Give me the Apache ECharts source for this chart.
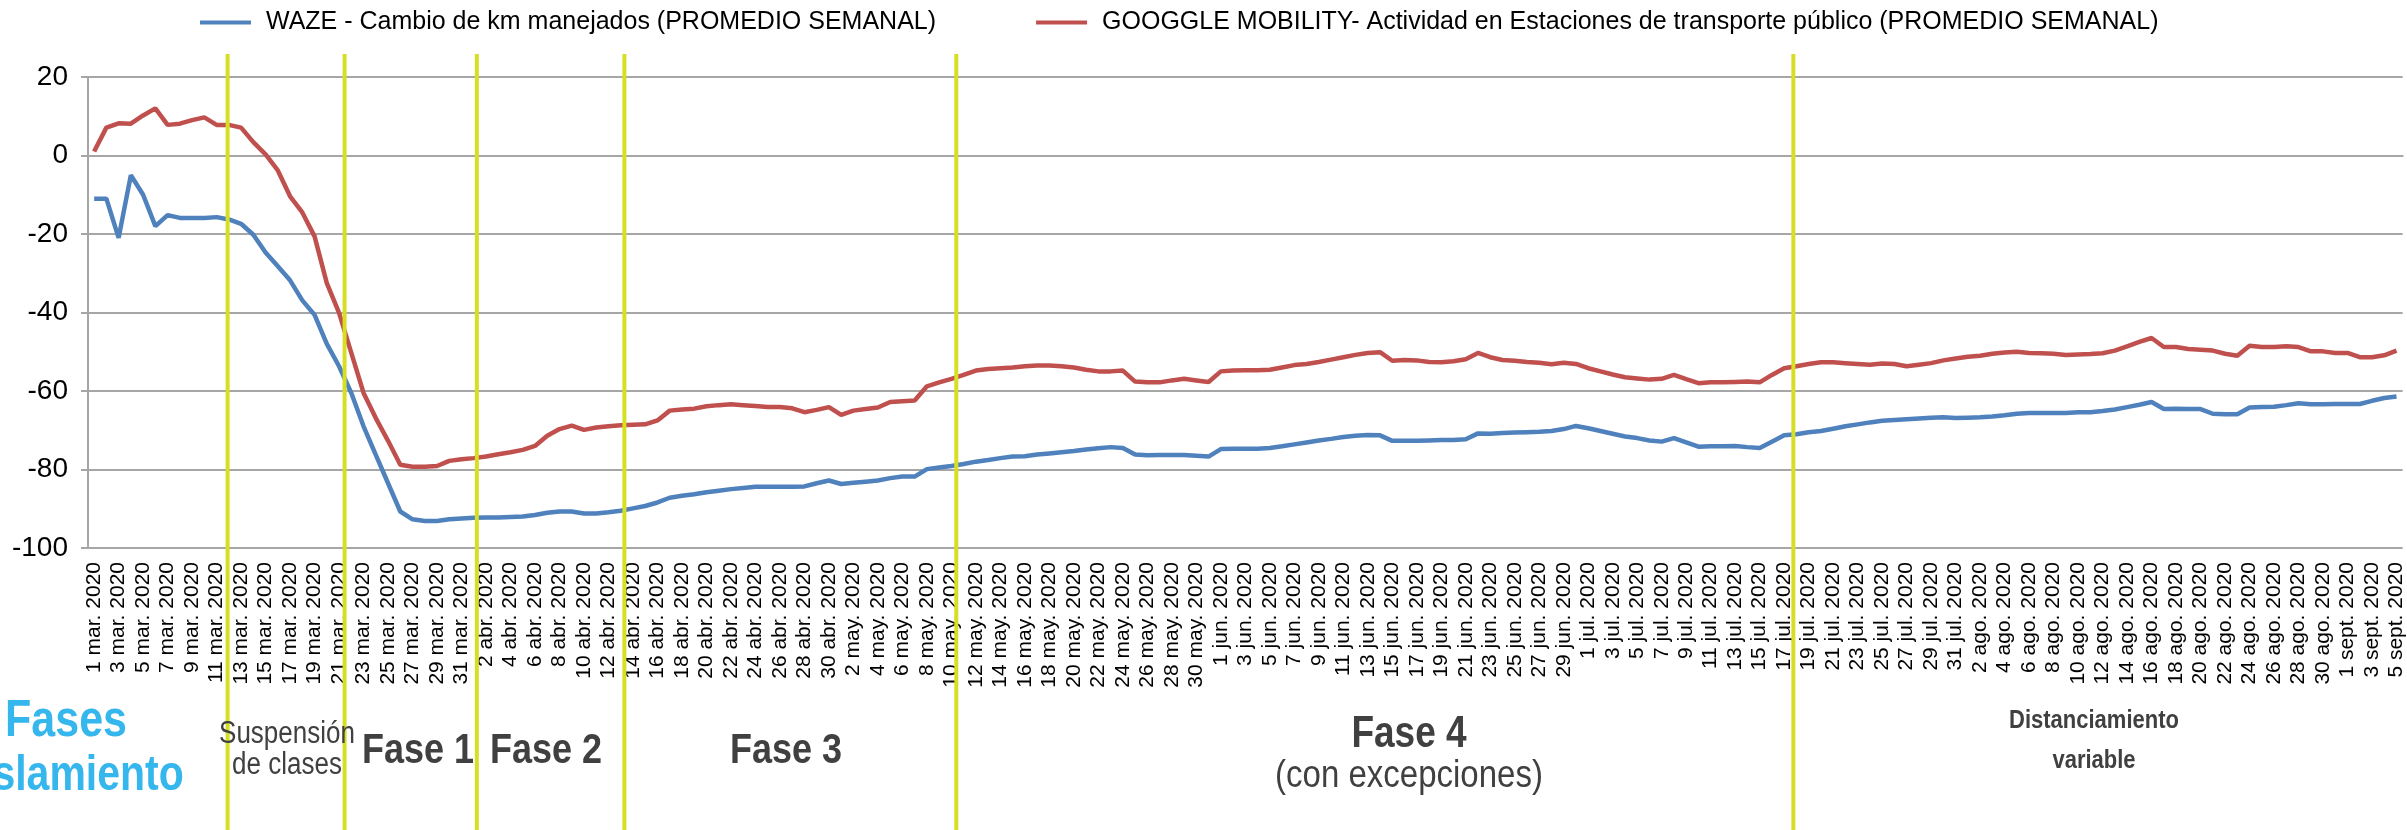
<!DOCTYPE html>
<html>
<head>
<meta charset="utf-8">
<script src="https://cdn.jsdelivr.net/npm/echarts@6/dist/echarts.min.js"></script>
<style>
html,body{margin:0;padding:0;background:#fff;}
#main{width:2407px;height:830px;}
</style>
</head>
<body>
<div id="main"></div>
<script>
// ---- Data ----
const monthNames = ['mar.', 'abr.', 'may.', 'jun.', 'jul.', 'ago.', 'sept.'];
const monthDays = [31, 30, 31, 30, 31, 31, 5];
const year = '2020';
const categories = [];
monthNames.forEach((m, i) => { for (let d = 1; d <= monthDays[i]; d++) categories.push(d + ' ' + m + ' ' + year); });

const wazeName = 'WAZE - Cambio de km manejados (PROMEDIO SEMANAL)';
const googleName = 'GOOGGLE MOBILITY- Actividad en Estaciones de transporte público (PROMEDIO SEMANAL)';

const wazeValues = [
-11,-11,-21,-5,-10,-18,-15.2,-15.9,-15.9,-15.9,
-15.7,-16.3,-17.4,-20.2,-24.7,-28.2,-31.8,-36.9,-40.6,-48.0,
-53.7,-60.5,-69.0,-76.3,-83.5,-90.7,-92.7,-93.1,-93.1,-92.7,
-92.5,-92.3,-92.2,-92.2,-92.1,-92.0,-91.6,-91.0,-90.7,-90.7,
-91.2,-91.2,-90.9,-90.5,-89.9,-89.3,-88.4,-87.2,-86.7,-86.3,
-85.8,-85.4,-85.0,-84.7,-84.4,-84.4,-84.4,-84.4,-84.3,-83.5,
-82.8,-83.7,-83.4,-83.1,-82.8,-82.2,-81.8,-81.8,-79.9,-79.5,
-79.1,-78.6,-78.0,-77.6,-77.1,-76.7,-76.6,-76.2,-75.9,-75.6,
-75.3,-74.9,-74.6,-74.3,-74.5,-76.2,-76.4,-76.3,-76.3,-76.3,
-76.5,-76.7,-74.8,-74.7,-74.7,-74.7,-74.5,-74.1,-73.6,-73.1,
-72.6,-72.2,-71.7,-71.4,-71.2,-71.3,-72.7,-72.7,-72.7,-72.6,
-72.5,-72.5,-72.3,-70.8,-70.9,-70.7,-70.6,-70.5,-70.4,-70.2,
-69.7,-68.9,-69.5,-70.2,-70.9,-71.6,-72.0,-72.6,-72.9,-72.0,
-73.1,-74.2,-74.1,-74.1,-74.0,-74.3,-74.5,-72.9,-71.3,-71.0,
-70.5,-70.2,-69.6,-69.0,-68.5,-68.0,-67.6,-67.4,-67.2,-67.0,
-66.8,-66.7,-66.9,-66.8,-66.7,-66.5,-66.2,-65.8,-65.6,-65.6,
-65.6,-65.6,-65.4,-65.4,-65.1,-64.7,-64.1,-63.5,-62.8,-64.6,
-64.5,-64.6,-64.6,-65.8,-65.9,-65.9,-64.2,-64.1,-64.0,-63.6,
-63.1,-63.4,-63.4,-63.3,-63.3,-63.3,-62.5,-61.8,-61.4
];

const googleValues = [
1,7.1,8.2,8.1,10.2,12.0,7.8,8.1,9.0,9.7,
7.8,7.8,7.1,3.4,0.3,-3.8,-10.4,-14.5,-20.6,-32.5,
-40.1,-50.3,-60.5,-66.9,-72.7,-78.8,-79.3,-79.3,-79.1,-77.8,
-77.4,-77.1,-76.7,-76.1,-75.6,-75.0,-74.0,-71.4,-69.7,-68.8,
-69.9,-69.3,-69.0,-68.7,-68.6,-68.5,-67.5,-65.0,-64.7,-64.5,
-63.9,-63.6,-63.4,-63.6,-63.8,-64.1,-64.1,-64.4,-65.4,-64.8,
-64.1,-66.1,-65.0,-64.6,-64.2,-62.8,-62.6,-62.4,-58.8,-57.8,
-56.9,-55.9,-54.8,-54.4,-54.2,-54.0,-53.7,-53.5,-53.5,-53.7,
-54.0,-54.6,-55.0,-55.0,-54.8,-57.6,-57.8,-57.8,-57.3,-56.9,
-57.3,-57.7,-55.0,-54.8,-54.7,-54.7,-54.6,-54.0,-53.4,-53.1,
-52.6,-52.0,-51.4,-50.8,-50.3,-50.1,-52.3,-52.1,-52.2,-52.6,
-52.7,-52.4,-51.9,-50.3,-51.4,-52.1,-52.3,-52.6,-52.8,-53.2,
-52.8,-53.1,-54.2,-55.0,-55.8,-56.5,-56.8,-57.1,-56.9,-55.9,
-57.0,-58.0,-57.8,-57.8,-57.7,-57.6,-57.8,-55.9,-54.2,-53.7,
-53.1,-52.7,-52.7,-52.9,-53.1,-53.3,-53.0,-53.1,-53.7,-53.3,
-52.9,-52.2,-51.7,-51.3,-51.0,-50.5,-50.2,-50.0,-50.3,-50.4,
-50.5,-50.8,-50.7,-50.6,-50.4,-49.7,-48.6,-47.5,-46.5,-48.8,
-48.8,-49.3,-49.5,-49.7,-50.5,-51.0,-48.5,-48.8,-48.8,-48.6,
-48.8,-49.9,-49.9,-50.3,-50.3,-51.4,-51.4,-50.9,-49.7
];

// Phase boundary dates (vertical lines) and the fraction of a day each sits past its date
const phaseDates = ['12 mar. 2020', '21 mar. 2020', '1 abr. 2020', '13 abr. 2020', '10 may. 2020', '17 jul. 2020'];
const phaseShift = [-0.1, 0.45, 0.25, 0.3, 0.4, 0.75];

// ---- Chart ----
const FONT = '"Liberation Sans", Arial, sans-serif';
const GRID = '#A6A6A6';
const chart = echarts.init(document.getElementById('main'), null, {renderer: 'canvas'});

const splitColors = [GRID, GRID, GRID, GRID, GRID, 'rgba(0,0,0,0)', GRID];

chart.setOption({
  animation: false,
  backgroundColor: '#fff',
  textStyle: {fontFamily: FONT},
  legend: {
    left: 195, top: 5,
    itemGap: 100,
    itemWidth: 51, itemHeight: 4,
    icon: 'rect',
    textStyle: {fontSize: 25, color: '#000', fontFamily: FONT, padding: [0, 0, 0, 10]},
    data: [wazeName, googleName]
  },
  grid: {left: 88, right: 0, top: 77, bottom: 282, containLabel: false},
  xAxis: {
    type: 'category',
    data: categories,
    boundaryGap: true,
    axisLine: {show: true, lineStyle: {color: GRID, width: 2}},
    axisTick: {show: false},
    axisLabel: {interval: 1, rotate: 90, fontSize: 21, color: '#000', margin: 14, fontFamily: FONT},
    splitLine: {show: false}
  },
  yAxis: {
    type: 'value',
    min: -100, max: 20, interval: 20,
    axisLine: {show: true, lineStyle: {color: GRID, width: 2}},
    axisTick: {show: true, length: 7, lineStyle: {color: GRID, width: 2}},
    axisLabel: {fontSize: 28, color: '#000', margin: 20, fontFamily: FONT},
    splitLine: {show: true, lineStyle: {color: splitColors, width: 2}}
  },
  series: [
    {
      name: wazeName, type: 'line', data: wazeValues,
      symbol: 'none', lineStyle: {color: '#4F81BD', width: 4.5}, itemStyle: {color: '#4F81BD'},
      z: 3
    },
    {
      name: googleName, type: 'line', data: googleValues,
      symbol: 'none', lineStyle: {color: '#C0504D', width: 4.5}, itemStyle: {color: '#C0504D'},
      z: 4,
      markLine: {
        silent: true, symbol: 'none', label: {show: false},
        lineStyle: {color: GRID, type: [14, 9], width: 2},
        data: [{yAxis: 0}]
      }
    }
  ]
});

// Vertical phase lines positioned through the category axis
const H = chart.getHeight();
const xs = phaseDates.map((d, i) => {
  const idx = categories.indexOf(d);
  const x0 = chart.convertToPixel({xAxisIndex: 0}, idx);
  const x1 = chart.convertToPixel({xAxisIndex: 0}, idx + 1);
  return x0 + phaseShift[i] * (x1 - x0);
});
const graphics = xs.map(x => ({
  type: 'line', z: 10,
  shape: {x1: x, y1: 54, x2: x, y2: H},
  style: {stroke: '#D7DF23', lineWidth: 4}
}));

function txt(x, y, text, size, weight, color) {
  return {type: 'text', z: 11, x: x, y: y, scaleY: 1.2,
    style: {text: text, fill: color, font: weight + ' ' + size + 'px ' + FONT, align: 'center', verticalAlign: 'middle'}};
}
const DARK = '#404040';
const CYAN = '#35B6EC';
graphics.push(
  txt(66, 722, 'Fases', 43, 'bold', CYAN),
  txt(71, 776, 'aislamiento', 41, 'bold', CYAN),
  txt(287, 734, 'Suspensión', 26, 'normal', DARK),
  txt(287, 765, 'de clases', 26, 'normal', DARK),
  txt(418, 751, 'Fase 1', 36, 'bold', DARK),
  txt(546, 751, 'Fase 2', 36, 'bold', DARK),
  txt(786, 751, 'Fase 3', 36, 'bold', DARK),
  txt(1409, 735, 'Fase 4', 37, 'bold', DARK),
  txt(1409, 776, '(con excepciones)', 33, 'normal', DARK),
  txt(2094, 721, 'Distanciamiento', 22, 'bold', DARK),
  txt(2094, 761, 'variable', 22, 'bold', DARK)
);
chart.setOption({graphic: graphics});
</script>
</body>
</html>
